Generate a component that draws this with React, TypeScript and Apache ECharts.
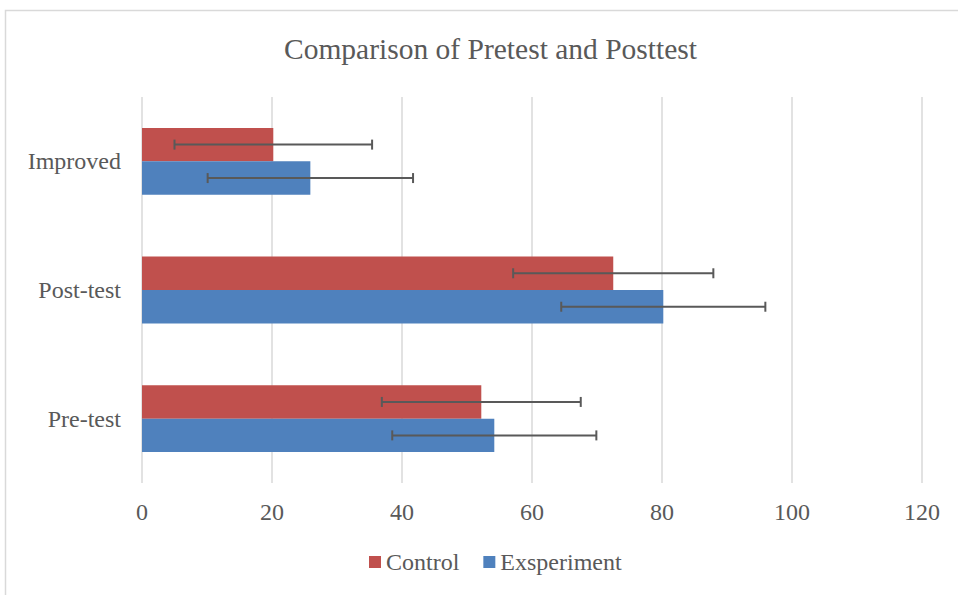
import React, { useEffect, useRef } from "react";
import * as echarts from "echarts";

const categories = ["Pre-test", "Post-test", "Improved"];
const controlValues = [52.2, 72.5, 20.2];
const experimentValues = [54.2, 80.2, 25.9];
const controlErrors = [15.3, 15.4, 15.2];
const experimentErrors = [15.7, 15.7, 15.8];
const xTicks = [0, 20, 40, 60, 80, 100, 120];

const FONT = "'Liberation Serif', 'Times New Roman', serif";
const TEXT = "#595959";

export default function App() {
  const ref = useRef<HTMLDivElement>(null);
  useEffect(() => {
    if (!ref.current) return;
    const chart = echarts.init(ref.current, undefined, { renderer: "svg" });
    const BAR_FRAC = 0.52;
    const makeErr = (sign: number) => (params: any, api: any) => {
      const cat = api.value(0);
      const lo = api.coord([api.value(1), cat]);
      const hi = api.coord([api.value(2), cat]);
      const band = api.size([0, 1])[1];
      const dy = (sign * band * BAR_FRAC) / 4;
      const y = lo[1] + dy;
      const cap = 5;
      const style = { stroke: "#595959", lineWidth: 2 };
      return {
        type: "group",
        children: [
          { type: "line", shape: { x1: lo[0], y1: y, x2: hi[0], y2: y }, style },
          { type: "line", shape: { x1: lo[0], y1: y - cap, x2: lo[0], y2: y + cap }, style },
          { type: "line", shape: { x1: hi[0], y1: y - cap, x2: hi[0], y2: y + cap }, style },
        ],
      };
    };
    const ctrlErrData = categories.map((_, i) => [i, controlValues[i] - controlErrors[i], controlValues[i] + controlErrors[i]]);
    const expErrData = categories.map((_, i) => [i, experimentValues[i] - experimentErrors[i], experimentValues[i] + experimentErrors[i]]);
    chart.setOption({
      animation: false,
      title: {
        text: "Comparison of Pretest and Posttest",
        left: 279,
        top: 29,
        textStyle: { fontFamily: FONT, fontSize: 29.5, fontWeight: "normal", color: TEXT },
      },
      graphic: [
        {
          type: "rect",
          shape: { x: 5.5, y: 10.5, width: 1200, height: 1200 },
          style: { fill: "none", stroke: "#D9D9D9", lineWidth: 1.5 },
          silent: true,
        },
      ],
      legend: {
        data: ["Control", "Exsperiment"],
        bottom: 16,
        left: 364,
        icon: "rect",
        itemWidth: 12,
        itemHeight: 12,
        itemGap: 24,
        textStyle: { fontFamily: FONT, fontSize: 24, color: TEXT },
      },
      grid: { left: 142, right: 36, top: 97, bottom: 112, containLabel: false },
      xAxis: {
        type: "value",
        min: 0,
        max: 120,
        interval: 20,
        axisLine: { show: false },
        axisTick: { show: false },
        axisLabel: {
          fontFamily: FONT,
          fontSize: 24,
          color: TEXT,
          margin: 17,
          formatter: (v: number) => (xTicks.includes(v) ? String(v) : ""),
        },
        splitLine: { lineStyle: { color: "#D9D9D9", width: 1.5 } },
      },
      yAxis: {
        type: "category",
        data: categories,
        axisLine: { show: false },
        axisTick: { show: false },
        axisLabel: { fontFamily: FONT, fontSize: 24, color: TEXT, margin: 21 },
      },
      series: [
        {
          name: "Control",
          type: "bar",
          data: controlValues,
          itemStyle: { color: "#C0504D" },
          barGap: "0%",
          barCategoryGap: "48%",
        },
        {
          name: "Exsperiment",
          type: "bar",
          data: experimentValues,
          itemStyle: { color: "#4F81BD" },
          barGap: "0%",
          barCategoryGap: "48%",
        },
        {
          type: "custom",
          name: "ctrlErr",
          renderItem: makeErr(-1),
          data: ctrlErrData,
          encode: { y: 0, x: [1, 2] },
          z: 10,
          silent: true,
        },
        {
          type: "custom",
          name: "expErr",
          renderItem: makeErr(1),
          data: expErrData,
          encode: { y: 0, x: [1, 2] },
          z: 10,
          silent: true,
        },
      ],
    });
    return () => chart.dispose();
  }, []);
  return (
    <div
      ref={ref}
      style={{ position: "absolute", left: 0, top: 0, width: 958, height: 595, background: "#fff" }}
    />
  );
}
